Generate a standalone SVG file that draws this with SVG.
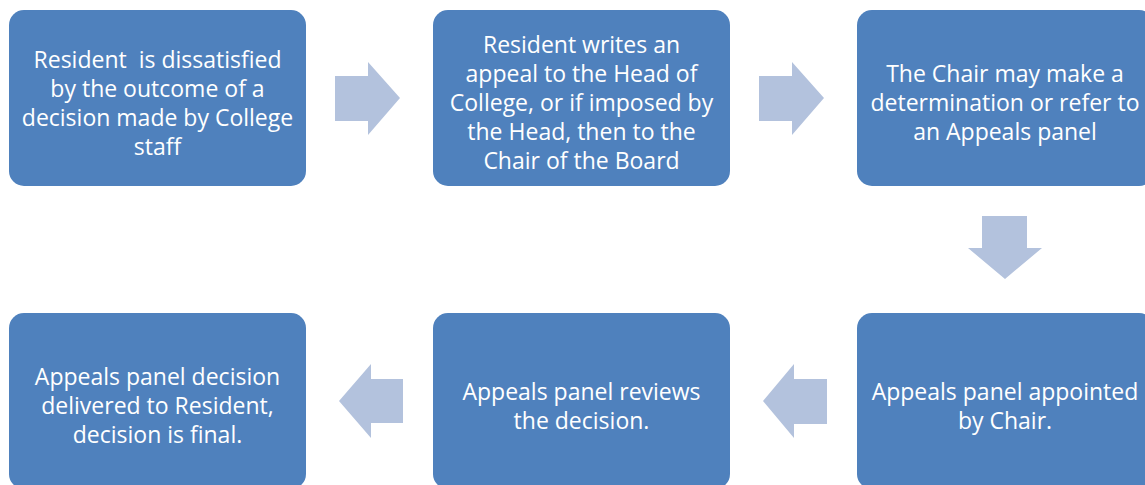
<svg xmlns="http://www.w3.org/2000/svg" width="1145" height="485" viewBox="0 0 1145 485">
<style>
.box{fill:#4F81BD;}
.arr{fill:#B3C2DD;}
.t{fill:#FFFFFF;font-family:"Open Sans","Liberation Sans",sans-serif;font-size:23px;text-anchor:middle;white-space:pre;}
</style>
<rect width="1145" height="485" fill="#FFFFFF"/>
<g id="connectors">
<polygon class="arr" points="335,76 368,76 368,62 400,98 368,135 368,121 335,121"/>
<polygon class="arr" points="759,76 792,76 792,62 824,98 792,135 792,121 759,121"/>
<polygon class="arr" points="982,216 1027,216 1027,248 1042,248 1005,279 968,248 982,248"/>
<polygon class="arr" points="827,379 794,379 794,364 763,401 794,438 794,424 827,424"/>
<polygon class="arr" points="403,379 371,379 371,364 339,401 371,438 371,423 403,423"/>
</g>
<g id="node1">
<rect class="box" x="9" y="10" width="297" height="176" rx="15"/>
<text class="t" xml:space="preserve"><tspan x="157.5" y="68">Resident  is dissatisfied</tspan><tspan x="157.5" y="97">by the outcome of a</tspan><tspan x="157.5" y="126">decision made by College</tspan><tspan x="157.5" y="155">staff</tspan></text>
</g>
<g id="node2">
<rect class="box" x="433" y="10" width="297" height="176" rx="15"/>
<text class="t"><tspan x="581.5" y="53">Resident writes an</tspan><tspan x="581.5" y="82">appeal to the Head of</tspan><tspan x="581.5" y="111">College, or if imposed by</tspan><tspan x="581.5" y="140">the Head, then to the</tspan><tspan x="581.5" y="169">Chair of the Board</tspan></text>
</g>
<g id="node3">
<rect class="box" x="857" y="10" width="297" height="176" rx="15"/>
<text class="t"><tspan x="1005" y="82">The Chair may make a</tspan><tspan x="1005" y="111">determination or refer to</tspan><tspan x="1005" y="140">an Appeals panel</tspan></text>
</g>
<g id="node4">
<rect class="box" x="857" y="313" width="297" height="176" rx="15"/>
<text class="t"><tspan x="1005" y="400">Appeals panel appointed</tspan><tspan x="1005" y="429">by Chair.</tspan></text>
</g>
<g id="node5">
<rect class="box" x="433" y="313" width="297" height="176" rx="15"/>
<text class="t"><tspan x="581.5" y="400">Appeals panel reviews</tspan><tspan x="581.5" y="429">the decision.</tspan></text>
</g>
<g id="node6">
<rect class="box" x="9" y="313" width="297" height="176" rx="15"/>
<text class="t"><tspan x="157.5" y="385">Appeals panel decision</tspan><tspan x="157.5" y="414">delivered to Resident,</tspan><tspan x="157.5" y="443">decision is final.</tspan></text>
</g>
</svg>
